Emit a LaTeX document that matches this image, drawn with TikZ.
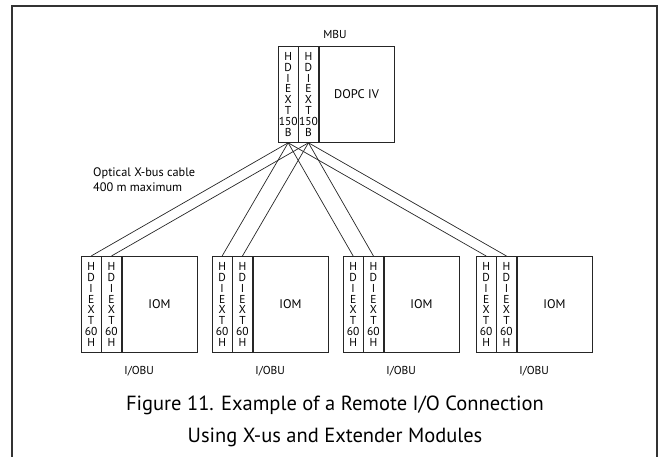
\documentclass[tikz,border=0pt]{standalone}
\usepackage{fontspec}
\setmainfont{PT Sans}
\usetikzlibrary{calc}
\begin{document}
\begin{tikzpicture}[x=1pt,y=-1pt,
  ink/.style={draw=black!85, line width=0.8pt},
  hdicol/.style={ink, minimum width=19.5pt, minimum height=96pt, inner sep=0pt,
    anchor=north west, align=center, font=\fontsize{11.5}{10.8}\selectfont},
  unitbox/.style={ink, minimum width=75pt, minimum height=96pt, inner sep=0pt,
    anchor=north west, font=\fontsize{12.5}{14}\selectfont},
  lbl/.style={inner sep=0pt, font=\fontsize{11.5}{13}\selectfont},
  cable/.style={draw=black!85, line width=0.7pt},
  frame/.style={draw=black!80, line width=2pt}]
\useasboundingbox (0,0) rectangle (662,457);

% outer frame, open at the bottom
\draw[frame] (12,458) -- (12,6) -- (657,6) -- (657,458);

% main backplane unit with its two extender modules
\node[hdicol] (m1) at (278,46) {H\\D\\I\\E\\X\\T\\150\\B};
\node[hdicol] (m2) at (m1.north east) {H\\D\\I\\E\\X\\T\\150\\B};
\node[unitbox] (dopc) at (m2.north east) {DOPC IV};
\node[lbl] (mbu) at (335,34) {MBU};

% four remote I/O backplane units
\foreach \i/\xx in {1/81,2/212,3/343,4/476}{
  \node[hdicol] (b\i a) at (\xx,256) {H\\D\\I\\E\\X\\T\\60\\H};
  \node[hdicol] (b\i b) at (b\i a.north east) {H\\D\\I\\E\\X\\T\\60\\H};
  \node[unitbox] (iom\i) at (b\i b.north east) {IOM};
  \node[lbl] (obu\i) at ($(b\i a.north west)!0.5!(iom\i.north east) + (0,115)$) {I/OBU};
}

% optical X-bus cables
\foreach \i in {1,2,3,4}{
  \draw[cable] (m1.south) -- (b\i a.north);
  \draw[cable] (m2.south) -- (b\i b.north);
}

\node[lbl, anchor=west, align=left, font=\fontsize{12.3}{15}\selectfont] (cabletxt)
  at (93,179.5) {Optical X-bus cable\\400 m maximum};

% caption
\node[inner sep=0pt, align=center, font=\fontsize{20.5}{32}\selectfont] (caption)
  at (335,421) {Figure 11. Example of a Remote I/O Connection\\Using X-us and Extender Modules};
\end{tikzpicture}
\end{document}
